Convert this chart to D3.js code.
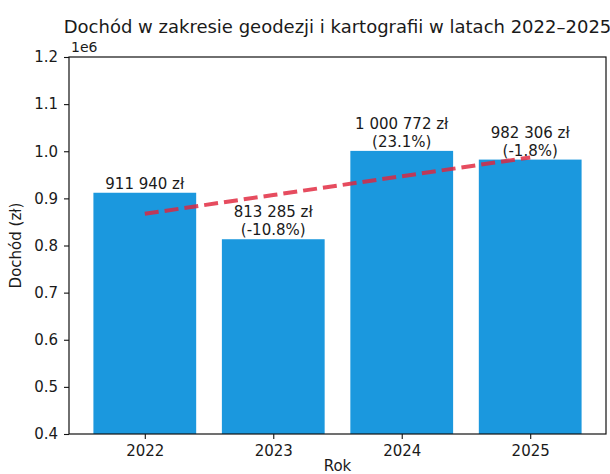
<!DOCTYPE html>
<html>
<head>
<meta charset="utf-8">
<script src="https://cdn.jsdelivr.net/npm/d3@7"></script>
<style>
  html, body { margin: 0; padding: 0; background: #fff; }
  svg { display: block; }
  text { font-family: "DejaVu Sans", sans-serif; fill: #1a1a1a; }
</style>
</head>
<body>
<svg id="chart" width="610" height="474"></svg>
<script>
const years = ["2022", "2023", "2024", "2025"];
const values = [911940, 813285, 1000772, 982306];
const yTicks = [0.4, 0.5, 0.6, 0.7, 0.8, 0.9, 1.0, 1.1, 1.2];
const title = "Dochód w zakresie geodezji i kartografii w latach 2022–2025";
const yLabel = "Dochód (zł)";
const xLabel = "Rok";

const W = 610, H = 474;
const m = { left: 69, right: W - 606, top: 57, bottom: H - 434 };
const svg = d3.select("#chart");
const iw = W - m.left - m.right, ih = H - m.top - m.bottom;
const g = svg.append("g").attr("transform", `translate(${m.left},${m.top})`);

// x: linear in index space like matplotlib: bars at 0..3 width 0.8, margins 5%
const x = d3.scaleLinear().domain([-0.59, 3.59]).range([0, iw]);
const y = d3.scaleLinear().domain([0.4e6, 1.2e6]).range([ih, 0]);
const bw = 0.8;

// bars
g.selectAll("rect.bar").data(values).join("rect")
  .attr("class", "bar")
  .attr("x", (d, i) => x(i - bw / 2))
  .attr("width", x(bw) - x(0))
  .attr("y", d => y(d))
  .attr("height", d => ih - y(d))
  .attr("fill", "#1b98de");

// labels
const fmtNum = v => d3.format(",")(v).replace(/,/g, " ") + " zł";
const fs = 15;
values.forEach((v, i) => {
  const t = g.append("text")
    .attr("x", x(i))
    .attr("text-anchor", "middle")
    .style("font-size", fs + "px");
  if (i === 0) {
    t.attr("y", y(v) - 4).text(fmtNum(v));
  } else {
    const pct = (v / values[i - 1] - 1) * 100;
    t.attr("y", y(v) - 4 - 18).text(fmtNum(v));
    g.append("text")
      .attr("x", x(i))
      .attr("y", y(v) - 4)
      .attr("text-anchor", "middle")
      .style("font-size", fs + "px")
      .text("(" + pct.toFixed(1) + "%)");
  }
});

// linear trend (least squares fit of the values)
const n = values.length;
const mx = d3.mean(values, (d, i) => i), my = d3.mean(values);
const slope = d3.sum(values, (d, i) => (i - mx) * (d - my)) / d3.sum(values, (d, i) => (i - mx) ** 2);
const icpt = my - slope * mx;
const trend = values.map((d, i) => [i, icpt + slope * i]);
g.append("path")
  .datum(trend)
  .attr("d", d3.line().x(d => x(d[0])).y(d => y(d[1])))
  .attr("fill", "none")
  .attr("stroke", "#e0243c")
  .attr("stroke-opacity", 0.82)
  .attr("stroke-width", 4)
  .attr("stroke-dasharray", "14,6");

// frame
g.append("rect").attr("x", 0).attr("y", 0).attr("width", iw).attr("height", ih)
  .attr("fill", "none").attr("stroke", "#111").attr("stroke-width", 1.2);

// axes
const xAxis = g.append("g").attr("transform", `translate(0,${ih})`)
  .call(d3.axisBottom(x).tickValues(d3.range(n)).tickFormat(i => years[i]).tickSize(5).tickPadding(6));
const yAxis = g.append("g")
  .call(d3.axisLeft(y).tickValues(yTicks.map(t => t * 1e6)).tickFormat(d => (d / 1e6).toFixed(1)).tickSize(5).tickPadding(6));
[xAxis, yAxis].forEach(a => {
  a.select(".domain").remove();
  a.selectAll("line").attr("stroke", "#111").attr("stroke-width", 1.1);
  a.selectAll("text").style("font-size", "15px").style("font-family", "DejaVu Sans, sans-serif").attr("fill", "#1a1a1a");
});

// offset text
g.append("text").attr("x", 2).attr("y", -5).style("font-size", "14px").text("1e6");

// title
svg.append("text").attr("x", m.left + iw / 2).attr("y", 33)
  .attr("text-anchor", "middle").style("font-size", "18px").text(title);

// axis labels
svg.append("text").attr("x", m.left + iw / 2).attr("y", 471)
  .attr("text-anchor", "middle").style("font-size", "15px").text(xLabel);
svg.append("text")
  .attr("transform", `translate(21,${m.top + ih / 2}) rotate(-90)`)
  .attr("text-anchor", "middle").style("font-size", "15px").text(yLabel);
</script>
</body>
</html>
